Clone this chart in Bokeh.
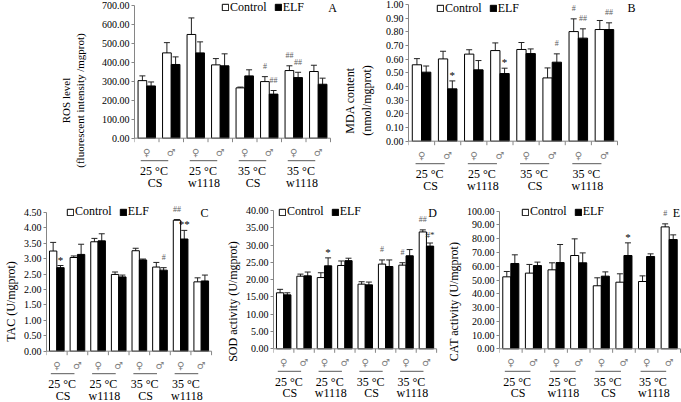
import numpy as np
from bokeh.plotting import figure
from bokeh.models import (ColumnDataSource, Range1d, FixedTicker, NumeralTickFormatter,
                          Whisker, TeeHead, Legend, LegendItem)
from bokeh.layouts import column, row
from bokeh.embed import file_html
from bokeh.resources import INLINE

# ---------------- data ----------------
sex = ["♀\ufe0e", "♂\ufe0e", "♀\ufe0e", "♂\ufe0e", "♀\ufe0e", "♂\ufe0e", "♀\ufe0e", "♂\ufe0e"]
pair_temp = ["25 °C", "25 °C", "35 °C", "35 °C"]
pair_strain = ["CS", "w1118", "CS", "w1118"]
series_names = ["Control", "ELF"]

ros_ctrl = [303, 449, 546, 386, 265, 298, 356, 351]
ros_ctrl_err = [25, 54, 87, 33, 4, 26, 25, 33]
ros_elf = [275, 388, 449, 381, 328, 232, 319, 284]
ros_elf_err = [21, 40, 58, 63, 32, 19, 28, 32]
ros_marks = [(5, "C", "#"), (5, "E", "##"), (6, "C", "##"), (6, "E", "##")]

mda_ctrl = [0.559, 0.602, 0.637, 0.663, 0.671, 0.463, 0.802, 0.817]
mda_ctrl_err = [0.045, 0.056, 0.032, 0.056, 0.051, 0.073, 0.093, 0.066]
mda_elf = [0.505, 0.383, 0.522, 0.495, 0.641, 0.578, 0.754, 0.817]
mda_elf_err = [0.045, 0.058, 0.068, 0.039, 0.034, 0.061, 0.068, 0.049]
mda_marks = [(1, "E", "*"), (3, "E", "*"), (5, "E", "#"), (6, "C", "#"),
             (6, "E", "##"), (7, "E", "##")]

tac_ctrl = [3.25, 3.04, 3.55, 2.49, 3.26, 2.73, 4.25, 2.25]
tac_ctrl_err = [0.28, 0.05, 0.11, 0.08, 0.08, 0.15, 0.02, 0.13]
tac_elf = [2.71, 3.14, 3.58, 2.41, 2.96, 2.63, 3.64, 2.28]
tac_elf_err = [0.07, 0.33, 0.23, 0.06, 0.03, 0.08, 0.28, 0.19]
tac_marks = [(0, "E", "*"), (5, "E", "#"), (6, "C", "##"), (6, "E", "**")]

sod_ctrl = [16.2, 21.0, 20.6, 24.1, 18.7, 24.5, 24.2, 33.8]
sod_ctrl_err = [1.0, 0.6, 1.4, 1.3, 0.7, 1.2, 0.7, 0.6]
sod_elf = [15.6, 21.1, 24.0, 25.5, 18.5, 23.8, 26.9, 29.7]
sod_elf_err = [0.6, 1.1, 2.3, 0.7, 0.8, 1.9, 1.8, 0.9]
sod_marks = [(2, "E", "*"), (5, "C", "#"), (6, "C", "#"), (7, "C", "##"), (7, "E", "#*")]

cat_ctrl = [52.3, 55.0, 57.4, 67.8, 45.8, 48.4, 48.9, 88.6]
cat_ctrl_err = [3.9, 6.3, 5.1, 12.1, 5.8, 6.1, 4.1, 2.2]
cat_elf = [62.0, 60.5, 62.7, 62.5, 52.8, 67.8, 67.1, 79.4]
cat_elf_err = [6.3, 2.5, 13.1, 7.2, 3.1, 9.2, 1.9, 3.4]
cat_marks = [(5, "E", "*"), (7, "C", "#")]

# ---------------- layout helpers ----------------
TOP_H = 200
BOT_H = 402 - TOP_H
SERIF = "Liberation Serif"
GRAY = "#868686"
BW = 0.355

panels = [
    dict(letter="A", fx=0, fy=0, w=340, h=TOP_H, axis=134, right=330, ytop=4.7, yzero=137.7,
         ymax=700, step=100, ylabel="ROS level\n(fluorescent intensity /mgprot)",
         lab_size="11px", lab_standoff=13, ctrl=ros_ctrl, ctrl_err=ros_ctrl_err,
         elf=ros_elf, elf_err=ros_elf_err, marks=ros_marks, legend=(221, 8.5), pos=(332, 7)),
    dict(letter="B", fx=340, fy=0, w=341, h=TOP_H, axis=408, right=617, ytop=4.0, yzero=140.7,
         ymax=1.0, step=0.1, ylabel="MDA content\n(nmol/mgprot)",
         lab_size="12px", lab_standoff=9, ctrl=mda_ctrl, ctrl_err=mda_ctrl_err,
         elf=mda_elf, elf_err=mda_elf_err, marks=mda_marks, legend=(436, 9.5), pos=(631, 7)),
    dict(letter="C", fx=0, fy=TOP_H, w=222, h=BOT_H, axis=45, right=211, ytop=212, yzero=350.7,
         ymax=4.5, step=0.5, ylabel="TAC (U/mgprot)",
         lab_size="12px", lab_standoff=3, ctrl=tac_ctrl, ctrl_err=tac_ctrl_err,
         elf=tac_elf, elf_err=tac_elf_err, marks=tac_marks, legend=(65, 213), pos=(204, 212)),
    dict(letter="D", fx=222, fy=TOP_H, w=221, h=BOT_H, axis=270, right=436, ytop=210, yzero=348.3,
         ymax=40, step=5, ylabel="SOD activity (U/mgprot)",
         lab_size="12px", lab_standoff=3, ctrl=sod_ctrl, ctrl_err=sod_ctrl_err,
         elf=sod_elf, elf_err=sod_elf_err, marks=sod_marks, legend=(275, 213), pos=(432, 212)),
    dict(letter="E", fx=443, fy=TOP_H, w=238, h=BOT_H, axis=499, right=680, ytop=210.7, yzero=348.3,
         ymax=100, step=10, ylabel="CAT activity (U/mgprot)",
         lab_size="12px", lab_standoff=3, ctrl=cat_ctrl, ctrl_err=cat_ctrl_err,
         elf=cat_elf, elf_err=cat_elf_err, marks=cat_marks, legend=(521, 213), pos=(676, 212)),
]


def make_panel(P):
    fx, fy, W, H = P["fx"], P["fy"], P["w"], P["h"]
    mbl = int(round(P["axis"] - fx))
    gpx = (P["right"] - P["axis"]) / 8.0
    frame_w = W - mbl
    y0 = P["yzero"] - fy
    yt = P["ytop"] - fy
    ppu = (y0 - yt) / P["ymax"]
    p = figure(width=W, height=H, x_range=Range1d(0, frame_w / gpx),
               y_range=Range1d(-(H - y0) / ppu, y0 / ppu),
               x_axis_location=None, y_axis_location="left",
               output_backend="svg", toolbar_location=None,
               min_border=0, min_border_left=mbl, min_border_right=0,
               min_border_top=0, min_border_bottom=0,
               outline_line_color=None, background_fill_color="white",
               border_fill_color="white")
    p.grid.visible = False

    def px_x(d):
        return d / gpx
    def px_y(d):
        return d / ppu

    # y axis
    ymax = P["ymax"]
    nt = int(round(ymax / P["step"]))
    ya = p.yaxis[0]
    ya.ticker = FixedTicker(ticks=[round(k * P["step"], 4) for k in range(nt + 1)])
    ya.bounds = (0, ymax)
    ya.formatter = NumeralTickFormatter(format="0.00")
    ya.axis_line_color = GRAY
    ya.major_tick_line_color = GRAY
    ya.major_tick_out = 3
    ya.major_tick_in = 0
    ya.minor_tick_out = 0
    ya.minor_tick_in = 0
    ya.major_label_standoff = 2
    ya.major_label_text_font = SERIF
    ya.major_label_text_font_size = "10px"
    ya.major_label_text_color = "black"
    ya.axis_label = P["ylabel"]
    ya.axis_label_text_font = SERIF
    ya.axis_label_text_font_style = "normal"
    ya.axis_label_text_font_size = P["lab_size"]
    ya.axis_label_text_color = "black"
    ya.axis_label_standoff = P["lab_standoff"]

    idx = np.arange(8)
    ctrl = np.array(P["ctrl"], dtype=float)
    ce = np.array(P["ctrl_err"], dtype=float)
    elf = np.array(P["elf"], dtype=float)
    ee = np.array(P["elf_err"], dtype=float)
    src_c = ColumnDataSource(dict(x=idx + 0.5 - BW / 2, top=ctrl, upper=ctrl + ce, lower=ctrl - ce))
    src_e = ColumnDataSource(dict(x=idx + 0.5 + BW / 2, top=elf, upper=elf + ee, lower=elf - ee))

    rc = p.vbar(x="x", top="top", bottom=0, width=BW, source=src_c,
                fill_color="white", line_color="black", line_width=1)
    re = p.vbar(x="x", top="top", bottom=0, width=BW, source=src_e,
                fill_color="black", line_color="black", line_width=1)
    for src in (src_c, src_e):
        p.add_layout(Whisker(base="x", upper="upper", lower="lower", source=src,
                             line_color="#222222", line_width=1,
                             upper_head=TeeHead(size=6, line_color="#222222", line_width=1),
                             lower_head=TeeHead(size=6, line_color="#222222", line_width=1)))

    # x axis line and ticks
    p.segment(x0=[0], y0=[0], x1=[8], y1=[0], line_color=GRAY, line_width=1)
    tk = np.arange(9)
    p.segment(x0=tk, y0=np.zeros(9), x1=tk, y1=np.full(9, -px_y(4)), line_color=GRAY, line_width=1)

    # sex symbols
    p.text(x=idx + 0.5, y=np.full(8, -px_y(14)), text=sex, text_font={"value": "DejaVu Sans"},
           text_font_size="10px", text_color="#7f7f7f", text_align="center", text_baseline="middle")
    # pair underline and labels
    k = np.arange(4)
    p.segment(x0=2 * k + 0.5 - px_x(6), y0=np.full(4, -px_y(22.5)),
              x1=2 * k + 1.5 - px_x(3), y1=np.full(4, -px_y(22.5)),
              line_color="#595959", line_width=1)
    p.text(x=2 * k + 1 - px_x(5), y=np.full(4, -px_y(33)), text=pair_temp,
           text_font={"value": SERIF}, text_font_size="12px", text_color="black",
           text_align="center", text_baseline="middle")
    p.text(x=2 * k + 1 - px_x(4), y=np.full(4, -px_y(44.5)), text=pair_strain,
           text_font={"value": SERIF}, text_font_size="12px", text_color="black",
           text_align="center", text_baseline="middle")

    # significance marks
    for (i, s, t) in P["marks"]:
        if s == "C":
            xm, ytop = i + 0.5 - BW / 2, ctrl[i] + ce[i]
        else:
            xm, ytop = i + 0.5 + BW / 2, elf[i] + ee[i]
        if t.startswith("#") and "*" not in t:
            off, fs, col = 10, "8px", "#606060"
        elif "#" in t:
            off, fs, col = 8, "9px", "#303030"
        else:
            off, fs, col = 6, "11px", "black"
        p.text(x=[xm], y=[ytop + px_y(off)], text=[t], text_font={"value": SERIF},
               text_font_size=fs, text_color=col, text_align="center", text_baseline="middle")

    # panel letter
    lx = (P["pos"][0] - fx - mbl) / gpx
    ly = (y0 - (P["pos"][1] - fy)) / ppu
    p.text(x=[lx], y=[ly], text=[P["letter"]], text_font={"value": SERIF}, text_font_size="12px",
           text_color="black", text_align="center", text_baseline="middle")

    # legend
    lgx = P["legend"][0] - fx - mbl
    lgc = P["legend"][1] - fy
    lgy = H - (lgc + 6)
    legend = Legend(items=[LegendItem(label=series_names[0], renderers=[rc]),
                           LegendItem(label=series_names[1], renderers=[re])],
                    orientation="horizontal", location=(lgx, lgy),
                    glyph_width=8, glyph_height=8, label_standoff=1, spacing=7,
                    padding=0, margin=0, label_height=12, label_width=10,
                    label_text_font=SERIF, label_text_font_size="12px",
                    label_text_color="black", border_line_color=None,
                    background_fill_alpha=0)
    p.add_layout(legend)
    return p


figs = [make_panel(P) for P in panels]
layout = column(row(figs[0], figs[1]), row(figs[2], figs[3], figs[4]))

open("out.html", "w").write(file_html(layout, INLINE))
